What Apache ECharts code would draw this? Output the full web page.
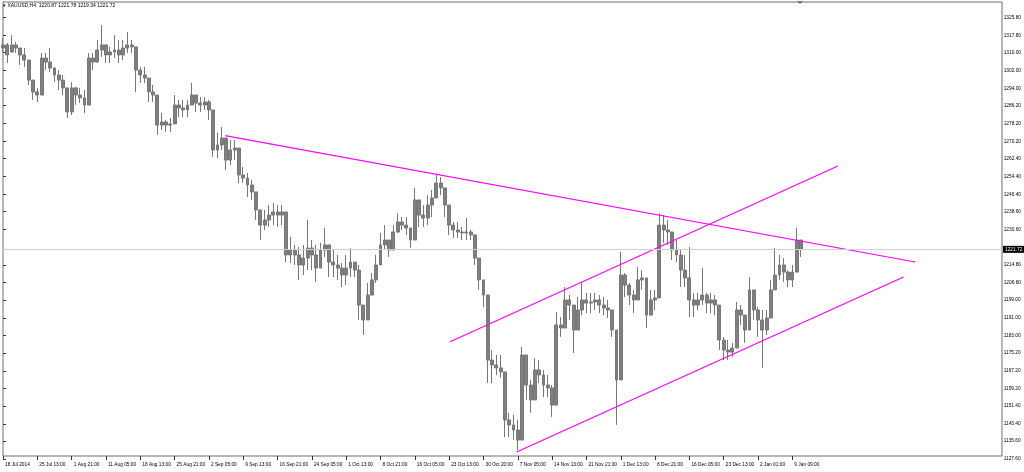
<!DOCTYPE html>
<html><head><meta charset="utf-8">
<script src="https://cdn.jsdelivr.net/npm/echarts/dist/echarts.min.js"></script>
<style>html,body{margin:0;padding:0;background:#fff}#c{width:1024px;height:472px}</style>
</head><body><div id="c"></div>
<script>
// Header
const symbolTitle = '▾ XAUUSD,H4  1220.87 1221.78 1219.34 1221.72';
// X axis time labels (one every 8 slots)
const xLabels = ['18 Jul 2014','25 Jul 13:00','1 Aug 21:00','11 Aug 05:00','18 Aug 13:00','25 Aug 21:00','2 Sep 05:00','9 Sep 13:00','16 Sep 21:00','24 Sep 05:00','1 Oct 13:00','8 Oct 21:00','16 Oct 05:00','23 Oct 13:00','30 Oct 20:00','7 Nov 05:00','14 Nov 13:00','21 Nov 21:00','1 Dec 13:00','8 Dec 21:00','16 Dec 05:00','23 Dec 13:00','2 Jan 01:00','9 Jan 09:00'];
// Price scale labels
const yLabels = ['1325.80','1317.80','1310.00','1302.00','1294.00','1286.20','1278.20','1270.20','1262.40','1254.40','1246.40','1238.60','1230.60','1214.80','1206.80','1199.00','1191.00','1183.00','1175.20','1167.20','1159.20','1151.40','1143.40','1135.60','1127.60'];
const lastPrice = 1221.72;
// OHLC per slot: [open, close, low, high]
const ohlc = [
[1312.1,1313.5,1310.3,1316.6],[1313.5,1309.0,1305.4,1314.4],[1310.3,1313.5,1310.3,1317.9],[1313.5,1312.1,1309.9,1314.8],
[1312.1,1309.0,1304.5,1312.1],[1309.0,1306.7,1303.6,1312.1],[1306.7,1297.7,1295.5,1306.7],[1297.7,1292.4,1288.8,1297.7],
[1292.4,1291.0,1287.9,1294.2],[1291.0,1307.6,1291.0,1309.9],[1307.6,1305.8,1302.2,1309.9],[1305.8,1303.1,1301.3,1312.1],
[1303.1,1300.0,1296.8,1303.6],[1300.0,1297.7,1293.3,1302.2],[1297.7,1294.2,1291.0,1300.0],[1294.2,1283.4,1280.7,1294.2],
[1283.4,1294.2,1282.0,1296.8],[1294.2,1291.0,1286.5,1294.6],[1291.0,1289.7,1287.4,1294.2],[1289.7,1286.5,1282.9,1293.3],
[1286.5,1307.6,1286.5,1309.9],[1307.6,1305.8,1302.2,1309.9],[1305.8,1311.2,1305.8,1315.7],[1311.2,1313.5,1308.1,1322.4],
[1313.5,1309.0,1305.4,1313.5],[1309.0,1310.3,1305.4,1312.6],[1310.3,1311.2,1307.6,1317.9],[1311.2,1309.0,1305.4,1315.7],
[1309.0,1312.1,1306.7,1315.7],[1312.1,1313.5,1309.9,1319.3],[1313.5,1312.6,1309.9,1315.7],[1312.6,1302.2,1292.4,1312.6],
[1302.2,1300.0,1296.4,1303.6],[1300.0,1298.6,1296.4,1303.6],[1298.6,1292.4,1287.9,1298.6],[1292.4,1291.0,1287.9,1295.5],
[1291.0,1277.5,1273.1,1291.0],[1277.5,1278.9,1275.3,1282.9],[1278.9,1277.5,1274.4,1279.8],[1277.5,1278.0,1274.4,1280.7],
[1278.0,1286.5,1278.0,1291.0],[1286.5,1285.2,1281.1,1288.8],[1285.2,1284.3,1281.1,1288.8],[1284.3,1286.5,1281.1,1288.8],
[1286.5,1291.0,1286.5,1296.4],[1291.0,1287.4,1283.4,1291.0],[1287.4,1286.5,1283.4,1290.1],[1286.5,1287.9,1284.3,1290.1],
[1287.9,1284.3,1279.8,1288.8],[1284.3,1266.3,1263.2,1284.3],[1266.3,1268.6,1262.7,1274.0],[1268.6,1271.7,1266.3,1276.6],
[1271.7,1261.8,1257.3,1271.7],[1261.8,1266.3,1259.6,1270.8],[1266.3,1267.2,1261.8,1270.8],[1267.2,1255.1,1251.5,1267.2],
[1255.1,1253.7,1251.5,1258.7],[1253.7,1250.6,1245.2,1256.0],[1250.6,1247.5,1243.9,1252.9],[1247.5,1239.4,1234.9,1247.5],
[1239.4,1232.6,1225.9,1239.4],[1232.6,1234.9,1230.4,1239.4],[1234.9,1237.1,1231.8,1241.6],[1237.1,1238.5,1232.6,1242.5],
[1238.5,1237.1,1231.8,1241.6],[1237.1,1238.5,1232.6,1241.6],[1238.5,1219.2,1216.0,1238.5],[1219.2,1221.4,1215.6,1227.3],
[1221.4,1219.2,1214.7,1223.7],[1219.2,1214.7,1208.0,1222.8],[1214.7,1217.8,1210.2,1223.7],[1217.8,1222.3,1212.4,1234.9],
[1222.3,1219.2,1212.4,1225.9],[1219.2,1213.3,1207.1,1223.7],[1213.3,1221.4,1213.3,1224.6],[1221.4,1223.7,1218.3,1231.3],
[1223.7,1216.0,1209.3,1223.7],[1216.0,1214.7,1209.3,1221.4],[1214.7,1213.3,1208.0,1219.2],[1213.3,1210.2,1204.8,1215.6],
[1210.2,1213.3,1205.7,1219.2],[1213.3,1216.0,1209.3,1222.3],[1216.0,1212.4,1209.3,1216.0],[1212.4,1196.7,1190.0,1214.7],
[1196.7,1190.0,1183.3,1196.7],[1190.0,1201.2,1190.0,1206.6],[1201.2,1208.0,1201.2,1211.1],[1208.0,1214.7,1206.6,1219.2],
[1214.7,1223.7,1214.7,1229.1],[1223.7,1225.9,1221.4,1232.6],[1225.9,1221.4,1218.3,1225.9],[1221.4,1229.5,1221.4,1232.6],
[1229.5,1234.0,1229.1,1238.0],[1234.0,1232.6,1230.4,1236.2],[1232.6,1231.3,1228.2,1236.2],[1231.3,1225.9,1222.3,1231.3],
[1225.9,1243.9,1225.9,1249.3],[1243.9,1237.1,1231.8,1243.9],[1237.1,1235.8,1231.8,1241.6],[1235.8,1241.6,1232.6,1246.1],
[1241.6,1244.8,1236.2,1248.4],[1244.8,1251.5,1244.8,1255.1],[1251.5,1249.3,1246.1,1254.2],[1249.3,1241.6,1236.2,1249.3],
[1241.6,1232.6,1228.2,1241.6],[1232.6,1230.4,1226.8,1234.0],[1230.4,1229.5,1226.8,1234.0],[1229.5,1229.1,1225.9,1231.8],
[1229.1,1229.5,1225.9,1235.8],[1229.5,1228.2,1225.9,1230.4],[1228.2,1217.8,1214.7,1228.2],[1217.8,1208.0,1203.5,1217.8],
[1208.0,1201.2,1195.8,1208.0],[1201.2,1172.0,1161.7,1201.2],[1172.0,1169.8,1161.7,1176.5],[1169.8,1168.5,1165.3,1174.3],
[1168.5,1166.7,1164.0,1174.3],[1166.7,1145.1,1137.5,1166.7],[1145.1,1142.9,1137.5,1148.3],[1142.9,1140.6,1136.1,1147.4],
[1140.6,1136.1,1131.6,1145.1],[1136.1,1174.3,1136.1,1177.9],[1174.3,1160.8,1154.1,1174.3],[1160.8,1154.1,1148.3,1163.1],
[1154.1,1167.6,1154.1,1172.9],[1167.6,1165.3,1161.7,1172.0],[1165.3,1160.8,1155.4,1167.6],[1160.8,1159.5,1155.4,1165.3],
[1159.5,1151.8,1146.5,1160.8],[1151.8,1187.8,1151.8,1193.6],[1187.8,1186.4,1182.4,1191.3],[1186.4,1199.0,1186.4,1204.8],
[1199.0,1196.7,1190.0,1201.2],[1196.7,1185.5,1175.2,1196.7],[1185.5,1194.5,1185.5,1200.3],[1194.5,1199.0,1192.2,1207.1],
[1199.0,1197.6,1193.1,1202.1],[1197.6,1198.1,1193.1,1202.1],[1198.1,1199.0,1194.5,1202.1],[1199.0,1196.7,1193.1,1201.2],
[1196.7,1195.4,1192.2,1200.3],[1195.4,1194.5,1190.9,1199.0],[1194.5,1185.5,1182.4,1194.5],[1185.5,1163.1,1142.9,1185.5],
[1163.1,1210.2,1163.1,1220.5],[1210.2,1205.7,1200.3,1211.1],[1205.7,1201.2,1196.7,1206.6],[1201.2,1199.0,1193.1,1203.5],
[1199.0,1208.0,1199.0,1213.8],[1208.0,1208.9,1203.5,1212.4],[1208.9,1192.2,1186.4,1208.9],[1192.2,1199.0,1192.2,1203.5],
[1199.0,1199.9,1194.5,1203.5],[1199.9,1232.6,1199.9,1238.0],[1232.6,1230.4,1224.6,1237.1],[1230.4,1229.5,1223.7,1234.9],
[1229.5,1221.4,1216.9,1229.5],[1221.4,1219.2,1216.0,1225.9],[1219.2,1212.4,1204.8,1221.4],[1212.4,1208.9,1204.8,1219.2],
[1208.9,1199.0,1191.3,1222.8],[1199.0,1196.7,1191.3,1202.1],[1196.7,1199.0,1194.5,1202.1],[1199.0,1201.2,1196.7,1213.3],
[1201.2,1197.6,1193.1,1202.1],[1197.6,1199.0,1193.1,1202.1],[1199.0,1196.7,1192.2,1201.2],[1196.7,1181.0,1176.5,1196.7],
[1181.0,1176.5,1172.0,1182.4],[1176.5,1175.6,1172.0,1181.0],[1175.6,1177.4,1173.4,1179.7],[1177.4,1194.5,1177.4,1198.1],
[1194.5,1192.2,1187.8,1196.7],[1192.2,1185.5,1179.7,1192.2],[1185.5,1203.5,1185.5,1209.3],[1203.5,1194.5,1190.0,1203.5],
[1194.5,1190.0,1182.4,1195.8],[1190.0,1185.5,1168.5,1194.5],[1185.5,1190.9,1183.3,1194.5],[1190.9,1203.5,1190.9,1208.0],
[1203.5,1210.2,1203.5,1222.3],[1210.2,1214.7,1208.0,1219.2],[1214.7,1211.5,1207.1,1217.8],[1211.5,1208.0,1204.8,1212.4],
[1208.0,1211.5,1204.8,1214.7],[1211.5,1225.9,1211.5,1231.3],[1225.9,1221.72,1218.3,1225.9]
];
// Trend lines: [[slot, price], [slot, price]]
const resistanceLine = [[51.75, 1272.74], [212.6, 1216.04]];
const channelUpper = [[104.2, 1180.26], [194.6, 1259.14]];
const channelLower = [[119.7, 1130.74], [209.9, 1209.31]];

const FONT = 'Liberation Sans';
const xMax = 232.87;
const chart = echarts.init(document.getElementById('c'), null, {renderer: 'canvas'});
const option = {
  animation: false,
  backgroundColor: '#ffffff',
  title: {text: symbolTitle, left: 3, top: 3, padding: 0,
    textStyle: {fontSize: 5, fontWeight: 'normal', color: '#000', fontFamily: FONT}},
  grid: [
    {left: 3, right: 22, top: 2, bottom: 16, show: true, borderColor: '#6e6e6e', borderWidth: 1, backgroundColor: 'transparent'},
    {left: 3, right: 22, top: 2, bottom: 12.5, show: false}
  ],
  xAxis: [
    {type: 'value', gridIndex: 0, min: 0, max: xMax, splitLine: {show: false},
      axisLine: {show: false},
      axisTick: {show: true, length: 4, customValues: xLabels.map((_, i) => i * 8), lineStyle: {color: '#333'}},
      axisLabel: {customValues: xLabels.map((_, i) => i * 8), formatter: v => xLabels[Math.round(v / 8)],
        fontSize: 4.8, color: '#000', fontFamily: FONT, align: 'left', padding: [0, 0, 0, 2], margin: 6}},
    {type: 'value', gridIndex: 1, min: 0, max: 1, show: false}
  ],
  yAxis: [
    {type: 'value', gridIndex: 0, position: 'right', min: 1128.94, max: 1332.76, splitLine: {show: false},
      axisLine: {show: false}, axisTick: {show: false}, axisLabel: {show: false}},
    {type: 'value', gridIndex: 1, position: 'right', min: 1127.37, max: 1332.76, splitLine: {show: false},
      axisLine: {show: false},
      axisTick: {show: true, length: 3, customValues: yLabels.map(Number), lineStyle: {color: '#333'}},
      axisLabel: {customValues: yLabels.map(Number), formatter: v => v.toFixed(2), fontSize: 4.8, color: '#000', fontFamily: FONT, margin: 3}}
  ],
  series: [
    {type: 'candlestick', xAxisIndex: 0, yAxisIndex: 0, barWidth: 3.4,
      data: ohlc.map((r, i) => [i, r[0], r[1], r[2], r[3]]),
      itemStyle: {color: '#808080', color0: '#808080', borderColor: '#777777', borderColor0: '#777777', borderWidth: 1},
      markLine: {silent: true, symbol: 'none', animation: false,
        lineStyle: {color: '#d0d0d0', width: 1, type: 'solid'},
        label: {show: true, position: 'end', distance: 1, formatter: () => lastPrice.toFixed(2),
          backgroundColor: '#000', color: '#fff', fontSize: 4.8, fontFamily: FONT, padding: [1, 2]},
        data: [{yAxis: lastPrice}]}
    },
    {type: 'line', xAxisIndex: 0, yAxisIndex: 0, data: resistanceLine, symbol: 'none', lineStyle: {color: '#ff00ff', width: 1.2}},
    {type: 'line', xAxisIndex: 0, yAxisIndex: 0, data: channelUpper, symbol: 'none', lineStyle: {color: '#ff00ff', width: 1.2}},
    {type: 'line', xAxisIndex: 0, yAxisIndex: 0, data: channelLower, symbol: 'none', lineStyle: {color: '#ff00ff', width: 1.2}}
  ],
  graphic: [
    {type: 'polygon', shape: {points: [[797, 1], [803, 1], [800, 4]]}, style: {fill: '#707070'}}
  ]
};
chart.setOption(option);
</script>
</body></html>
